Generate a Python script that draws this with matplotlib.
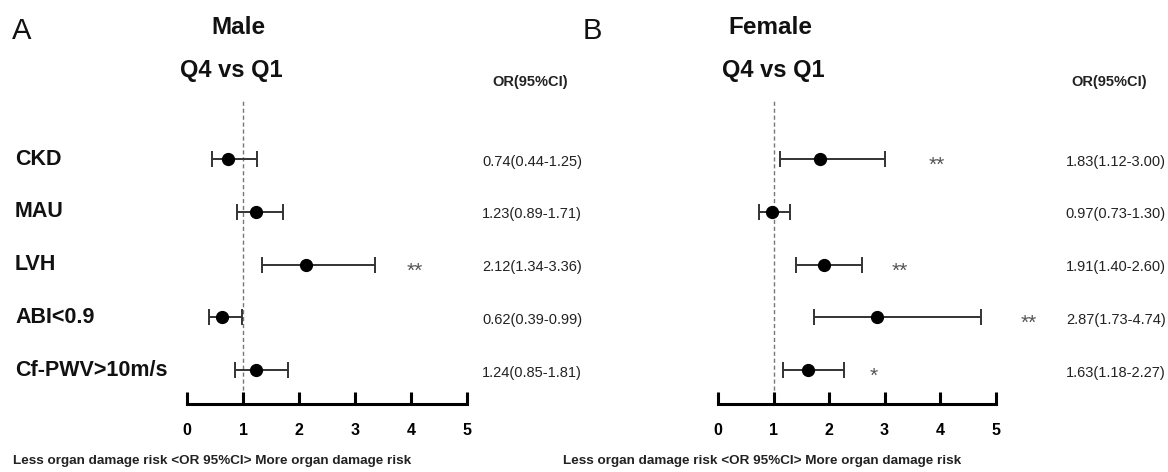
import matplotlib
matplotlib.use("Agg")
import matplotlib.pyplot as plt
import matplotlib.transforms as mtransforms

plt.rcParams["font.family"] = ["Liberation Sans", "DejaVu Sans"]

# data
outcomes = ["CKD", "MAU", "LVH", "ABI<0.9", "Cf-PWV>10m/s"]

male_or = [0.74, 1.23, 2.12, 0.62, 1.24]
male_lo = [0.44, 0.89, 1.34, 0.39, 0.85]
male_hi = [1.25, 1.71, 3.36, 0.99, 1.81]
male_stars = ["", "", "**", "", ""]
male_star_x = [None, None, 4.06, None, None]

female_or = [1.83, 0.97, 1.91, 2.87, 1.63]
female_lo = [1.12, 0.73, 1.40, 1.73, 1.18]
female_hi = [3.00, 1.30, 2.60, 4.74, 2.27]
female_stars = ["**", "", "**", "**", "*"]
female_star_x = [3.95, None, 3.28, 5.60, 2.81]

xticks = [0, 1, 2, 3, 4, 5]

W, H = 1168, 472
fig = plt.figure(figsize=(W / 100, H / 100), dpi=100)

ROW0, ROWSTEP = 159.0, 52.75  # pixel row of first outcome and spacing


def py(pix):
    """pixel row -> data y (row index units)"""
    return (pix - ROW0) / ROWSTEP


def draw_panel(x0_px, unit_px, letter, letter_x, title, title_x, q_x, or_x, val_x,
               foot_x, ors, los, his, stars, star_x, show_labels):
    ax = fig.add_axes([x0_px / W, 1 - 404 / H, 5 * unit_px / W, (404 - 100) / H])
    ax.set_xlim(0, 5)
    ax.set_ylim(py(404), py(100))
    ys = list(range(len(ors)))

    ax.axvline(1, color="#777777", ls=(0, (3, 2)), lw=1.0, zorder=1)

    xerr = [[o - lo for o, lo in zip(ors, los)], [hi - o for o, hi in zip(ors, his)]]
    ax.errorbar(ors, ys, xerr=xerr, fmt="o", color="black", ecolor="#333333",
                elinewidth=1.4, capsize=6, capthick=1.4, markersize=8.5, zorder=3)

    for spine in ["top", "right", "left"]:
        ax.spines[spine].set_visible(False)
    ax.spines["bottom"].set_linewidth(2.2)
    ax.set_yticks([])
    ax.set_xticks(xticks)
    ax.tick_params(axis="x", direction="in", length=9, width=2.2, pad=14,
                   labelsize=11.5)
    for lab in ax.get_xticklabels():
        lab.set_fontweight("bold")

    for y, s, sx in zip(ys, stars, star_x):
        if s:
            ax.text(sx, y + 0.12, s, ha="center", va="center", fontsize=15,
                    color="#555555", clip_on=False)

    for y, o, lo, hi in zip(ys, ors, los, his):
        ax.text(val_x, y + 0.05, f"{o:.2f}({lo:.2f}-{hi:.2f})", ha="center",
                va="center", fontsize=10.5, color="#222222", clip_on=False)

    ax.text(or_x, py(82), "OR(95%CI)", ha="center", va="center", fontsize=10.5,
            fontweight="bold", color="#222222", clip_on=False)
    ax.text(q_x, py(70), "Q4 vs Q1", ha="center", va="center", fontsize=17,
            fontweight="bold", color="#111111", clip_on=False)

    if show_labels:
        trans = mtransforms.blended_transform_factory(fig.transFigure, ax.transData)
        for y, name in zip(ys, outcomes):
            ax.text(15 / W, y, name, transform=trans, ha="left", va="center",
                    fontsize=15.5, fontweight="bold", color="#111111")

    fig.text(letter_x / W, 1 - 31 / H, letter, ha="left", va="center",
             fontsize=21, color="#111111")
    fig.text(title_x / W, 1 - 27 / H, title, ha="left", va="center",
             fontsize=17.5, fontweight="bold", color="#111111")
    fig.text(foot_x / W, 1 - 461 / H,
             "Less organ damage risk <OR 95%CI> More organ damage risk",
             ha="center", va="center", fontsize=9.7, fontweight="bold",
             color="#222222")
    return ax


draw_panel(187, 56.0, "A", 12, "Male", 211, 0.8, 6.13, 6.16, 212,
           male_or, male_lo, male_hi, male_stars, male_star_x, True)
draw_panel(718, 55.5, "B", 583, "Female", 728, 1.0, 7.05, 7.17, 762,
           female_or, female_lo, female_hi, female_stars, female_star_x, False)

fig.savefig("out.png", dpi=100)
